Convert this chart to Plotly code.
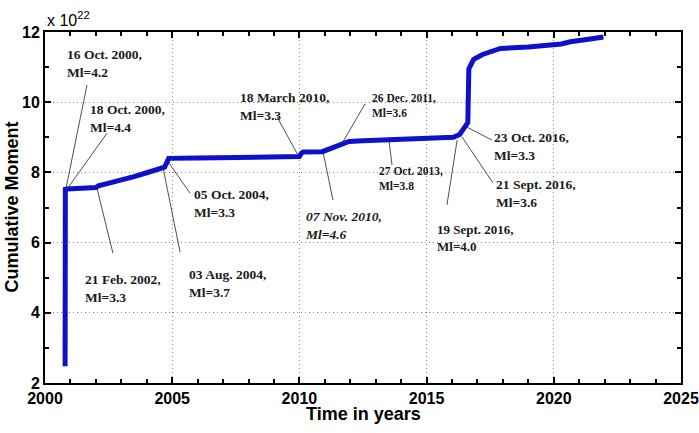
import plotly.graph_objects as go

# Cumulative moment curve (x 10^22)
years = [2000.79, 2000.80, 2000.86, 2001.5, 2002.0, 2002.1, 2002.6, 2003.0, 2003.5,
         2004.0, 2004.6, 2004.7, 2004.8, 2004.86, 2006.0, 2008.0, 2010.0, 2010.08,
         2010.15, 2010.9, 2011.2, 2011.5, 2011.95, 2012.5, 2013.5, 2015.0, 2016.05,
         2016.3, 2016.45, 2016.55, 2016.62, 2016.66, 2016.75, 2016.85, 2017.2, 2017.9,
         2019.0, 2019.85, 2020.3, 2020.65, 2021.15, 2021.5, 2021.95]
moment = [2.48, 7.52, 7.53, 7.55, 7.57, 7.62, 7.70, 7.78, 7.88,
          7.99, 8.12, 8.15, 8.30, 8.40, 8.41, 8.42, 8.45, 8.55,
          8.58, 8.59, 8.68, 8.78, 8.88, 8.90, 8.93, 8.96, 9.00,
          9.08, 9.25, 9.36, 9.42, 10.95, 11.10, 11.22, 11.36, 11.53,
          11.57, 11.62, 11.66, 11.72, 11.79, 11.81, 11.86]

# Event labels: text, text anchor (x, y top), leader line (x0, y0, x1, y1), font size
labels = ["16 Oct. 2000,<br>Ml=4.2", "18 Oct. 2000,<br>Ml=4.4", "21 Feb. 2002,<br>Ml=3.3",
          "03 Aug. 2004,<br>Ml=3.7", "05 Oct. 2004,<br>Ml=3.3", "18 March 2010,<br>Ml=3.3",
          "<i>07 Nov. 2010,<br>Ml=4.6</i>", "26 Dec. 2011,<br>Ml=3.6", "27 Oct. 2013,<br>Ml=3.8",
          "23 Oct. 2016,<br>Ml=3.3", "21 Sept. 2016,<br>Ml=3.6", "19 Sept. 2016,<br>Ml=4.0"]
label_x = [2000.79, 2001.69, 2001.49, 2005.58, 2005.78, 2007.59, 2010.14, 2012.78, 2013.05,
           2017.57, 2017.65, 2015.33]
label_y = [11.63, 10.06, 5.22, 5.36, 7.64, 10.40, 7.01, 10.35, 8.27, 9.26, 7.93, 6.64]
label_size = [13.5, 13.5, 13.5, 13.5, 13.5, 13.5, 13.5, 11.5, 11.5, 13.5, 13.5, 13]
line_x0 = [2001.65, 2002.44, 2002.04, 2004.64, 2004.84, 2009.12, 2010.93, 2011.71, 2013.52,
           2016.59, 2016.39, 2016.20]
line_y0 = [10.49, 9.12, 7.56, 8.13, 8.30, 9.58, 8.58, 8.87, 8.92, 9.29, 9.01, 8.92]
line_x1 = [2000.83, 2000.90, 2002.67, 2005.31, 2005.70, 2009.94, 2011.32, 2012.58, 2013.64,
           2017.57, 2017.61, 2015.80]
line_y1 = [7.56, 7.56, 5.70, 5.73, 7.41, 8.50, 7.21, 9.95, 8.21, 8.92, 7.70, 7.07]

x_title = "Time in years"
y_title = "Cumulative Moment"

fig = go.Figure()
fig.add_trace(go.Scatter(x=years, y=moment, mode="lines",
                         line=dict(color="#1010cc", width=5), showlegend=False,
                         hoverinfo="skip"))

serif = "Liberation Serif"
for i in range(len(labels)):
    fig.add_shape(type="line", xref="x", yref="y",
                  x0=line_x0[i], y0=line_y0[i], x1=line_x1[i], y1=line_y1[i],
                  line=dict(color="#222222", width=0.8))
    fig.add_annotation(x=label_x[i], y=label_y[i], xref="x", yref="y", text=labels[i],
                       showarrow=False, xanchor="left", yanchor="top", align="left",
                       font=dict(family=serif, size=label_size[i], color="#1a1a1a",
                                 weight="bold"))

fig.add_annotation(x=0, y=1, xref="paper", yref="paper", text="x 10<sup>22</sup>",
                   showarrow=False, xanchor="left", yanchor="bottom", yshift=1,
                   font=dict(family="Liberation Sans", size=16, color="black"))
title_font = dict(family="Liberation Sans", size=18, color="black", weight="bold")
fig.add_annotation(x=0.5, y=0, xref="paper", yref="paper", text=x_title, showarrow=False,
                   xanchor="center", yanchor="middle", yshift=-31, font=title_font)
fig.add_annotation(x=0, y=0.5, xref="paper", yref="paper", text=y_title, showarrow=False,
                   textangle=-90, xanchor="center", yanchor="middle", xshift=-34,
                   font=title_font)

axis_font = dict(family="Liberation Sans", size=16, color="black", weight="bold")
common = dict(showline=True, linecolor="black", linewidth=2, mirror="ticks",
              ticks="inside", ticklen=6, tickwidth=1.5, tickcolor="black",
              showgrid=True, gridcolor="#888888", griddash="1px,3px", gridwidth=1.2,
              zeroline=False, tickfont=axis_font, automargin=False, layer="above traces",
              ticklabeloverflow="allow")
fig.update_xaxes(range=[2000, 2025], tickmode="linear", tick0=2000, dtick=5,
                 minor=dict(dtick=1, tick0=2000, ticks="inside", ticklen=4,
                            tickcolor="black", tickwidth=1.5, showgrid=False),
                 **common)
fig.update_yaxes(range=[2, 12], tickmode="linear", tick0=2, dtick=2,
                 minor=dict(dtick=1, tick0=2, ticks="inside", ticklen=4,
                            tickcolor="black", tickwidth=1.5, showgrid=False),
                 **common)
fig.update_layout(width=699, height=433, margin=dict(l=45, r=18, t=32, b=50),
                  plot_bgcolor="white", paper_bgcolor="white")
fig.write_html("out.html", config={"displayModeBar": False},
               post_script="document.body.style.margin='0';document.body.style.overflow='hidden';")
